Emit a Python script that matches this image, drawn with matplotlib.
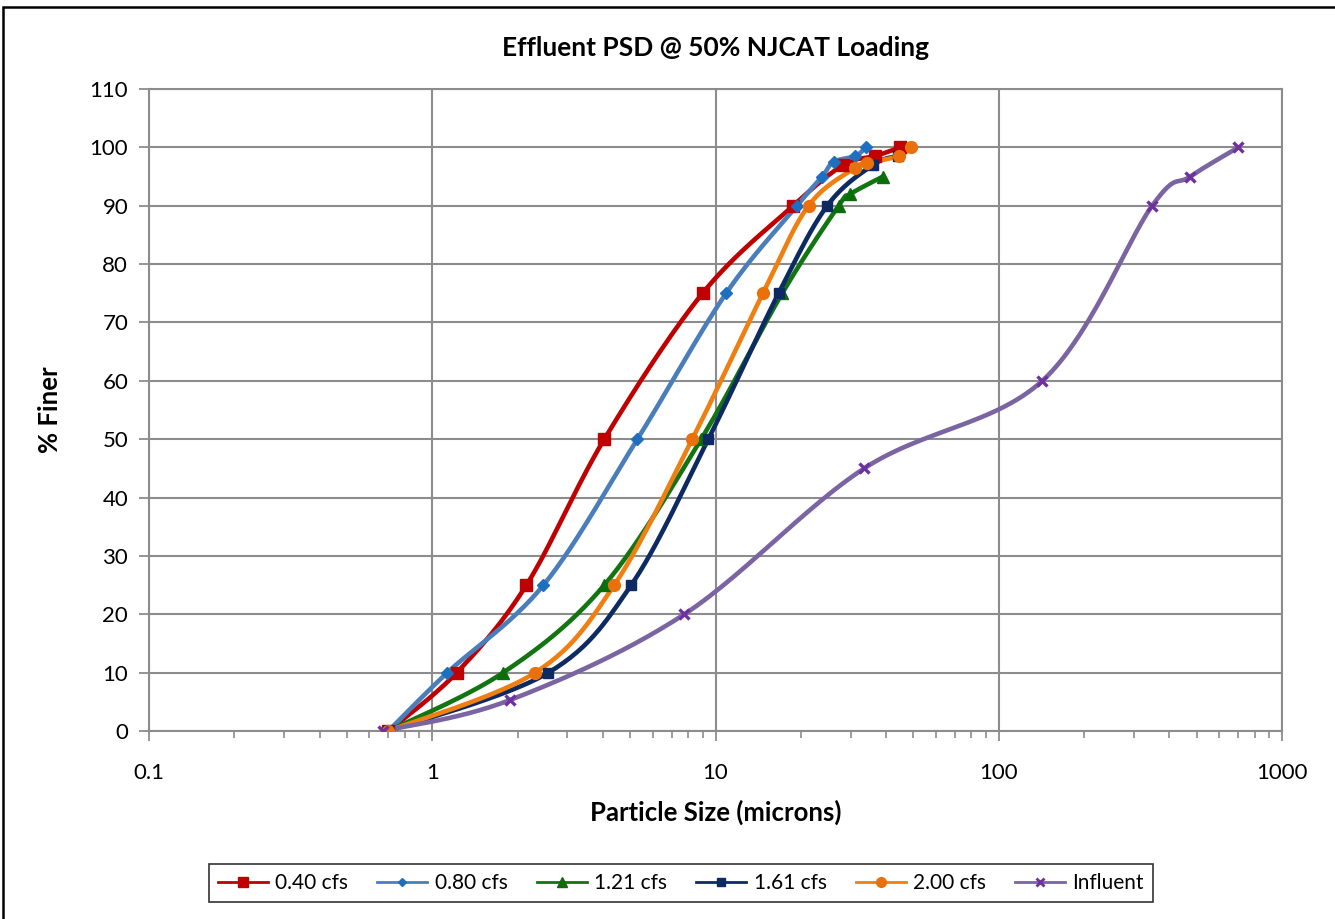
import numpy as np
import matplotlib
matplotlib.use("Agg")
import matplotlib.pyplot as plt
from matplotlib.patches import Rectangle
from matplotlib.ticker import LogLocator, FixedLocator, FuncFormatter, NullFormatter

plt.rcParams['font.family'] = ['Lato', 'DejaVu Sans']

# particle size (microns) vs % finer
size_040 = [0.70, 1.22, 2.15, 4.05, 9.0, 18.8, 28.3, 36.6, 44.9]
pct_040 = [0, 10, 25, 50, 75, 90, 97, 98.5, 100]

size_080 = [0.70, 1.13, 2.47, 5.3, 10.9, 19.4, 23.8, 26.1, 31.1, 34.0]
pct_080 = [0, 10, 25, 50, 75, 90, 95, 97.5, 98.5, 100]

size_121 = [0.70, 1.78, 4.05, 8.9, 17.2, 27.2, 29.9, 39.0]
pct_121 = [0, 10, 25, 50, 75, 90, 92, 95]

size_161 = [0.70, 2.57, 5.04, 9.43, 16.7, 24.8, 36.0, 44.0]
pct_161 = [0, 10, 25, 50, 75, 90, 97, 98.5]

size_200 = [0.70, 2.31, 4.39, 8.28, 14.7, 21.3, 31.1, 34.3, 44.3, 49.0]
pct_200 = [0, 10, 25, 50, 75, 90, 96.5, 97.3, 98.5, 100]

size_inf = [0.67, 1.88, 7.76, 33.5, 142.5, 348, 474, 701]
pct_inf = [0, 5.3, 20, 45, 60, 90, 95, 100]

labels = ['0.40 cfs', '0.80 cfs', '1.21 cfs', '1.61 cfs', '2.00 cfs', 'Influent']


def smooth(x, y, n=30):
    # excel-style smoothed line: catmull-rom through the points in (log x, y)
    p = np.column_stack([np.log10(x), y]).astype(float)
    if len(p) < 3:
        return np.asarray(x), np.asarray(y)
    pts = np.vstack([p[0], p, p[-1]])
    out = []
    t = np.linspace(0, 1, n)[:, None]
    for i in range(1, len(pts) - 2):
        p0, p1, p2, p3 = pts[i - 1], pts[i], pts[i + 1], pts[i + 2]
        c1 = p1 + (p2 - p0) / 6
        c2 = p2 - (p3 - p1) / 6
        seg = ((1 - t) ** 3) * p1 + 3 * ((1 - t) ** 2) * t * c1 + 3 * (1 - t) * t ** 2 * c2 + t ** 3 * p2
        out.append(seg)
    out = np.vstack(out)
    return 10 ** out[:, 0], out[:, 1]


fig = plt.figure(figsize=(13.35, 9.19), dpi=100)
ax = fig.add_axes([149 / 1335, 1 - 731 / 919, 1133 / 1335, 642 / 919])

series = [
    (size_040, pct_040, '#C00000', '#C00000', 's', 8.5),
    (size_080, pct_080, '#4A7EBB', '#1F6FC0', 'D', 6),
    (size_121, pct_121, '#127512', '#0B6E0B', '^', 8.5),
    (size_161, pct_161, '#0E2A63', '#0E2A63', 's', 7.5),
    (size_200, pct_200, '#F07F12', '#E9700A', 'o', 8.5),
    (size_inf, pct_inf, '#7B64A2', '#7030A0', 'x', 7),
]

for (xs, ys, lc, mc, mk, ms), lab in zip(series, labels):
    sx, sy = smooth(xs, ys)
    ax.plot(sx, sy, color=lc, lw=3.3, solid_capstyle='round', zorder=3)
    ax.plot(xs, ys, ls='none', marker=mk, ms=ms, color=mc, mec=mc,
            mew=2.4 if mk == 'x' else 1, zorder=4)
    ax.plot([], [], color=lc, lw=2.0, marker=mk, ms=ms - 1.5, mfc=mc, mec=mc,
            mew=2 if mk == 'x' else 1, label=lab)

ax.set_xscale('log')
ax.set_xlim(0.1, 1000)
ax.set_ylim(0, 110)
ax.yaxis.set_major_locator(FixedLocator(np.arange(0, 111, 10)))
ax.xaxis.set_major_locator(LogLocator(base=10, numticks=10))
ax.xaxis.set_minor_locator(LogLocator(base=10, subs=np.arange(2, 10), numticks=20))
ax.xaxis.set_minor_formatter(NullFormatter())
ax.xaxis.set_major_formatter(FuncFormatter(lambda v, p: '%g' % v))

ax.grid(True, which='major', color='#8C8C8C', lw=1.5)
ax.set_axisbelow(True)
for s in ax.spines.values():
    s.set_color('#8C8C8C')
    s.set_linewidth(1.5)
ax.tick_params(axis='both', which='major', direction='out', length=7, width=1.3,
               color='#8C8C8C', labelsize=16, labelcolor='black', pad=8)
ax.tick_params(axis='x', which='minor', direction='out', length=5, width=1.2, color='#8C8C8C')
ax.tick_params(axis='x', which='major', pad=16)

ax.set_title('Effluent PSD @ 50% NJCAT Loading', fontsize=19, fontweight='bold', pad=24)
ax.set_xlabel('Particle Size (microns)', fontsize=18.5, fontweight='bold', labelpad=12)
ax.set_ylabel('% Finer', fontsize=18.5, fontweight='bold', labelpad=20)

leg = ax.legend(loc='center', bbox_to_anchor=(681 / 1335, 1 - 883 / 919),
                bbox_transform=fig.transFigure, ncol=6, fontsize=15, frameon=True,
                fancybox=False, edgecolor='black', handlelength=2.4, columnspacing=1.4,
                handletextpad=0.35, borderpad=0.45)
leg.get_frame().set_linewidth(1.2)

fig.patches.append(Rectangle((3 / 1335, -0.05), 1.2, 1.05 - 7 / 919, transform=fig.transFigure,
                             fill=False, edgecolor='black', lw=1.8))

fig.savefig('out.png', dpi=100)
